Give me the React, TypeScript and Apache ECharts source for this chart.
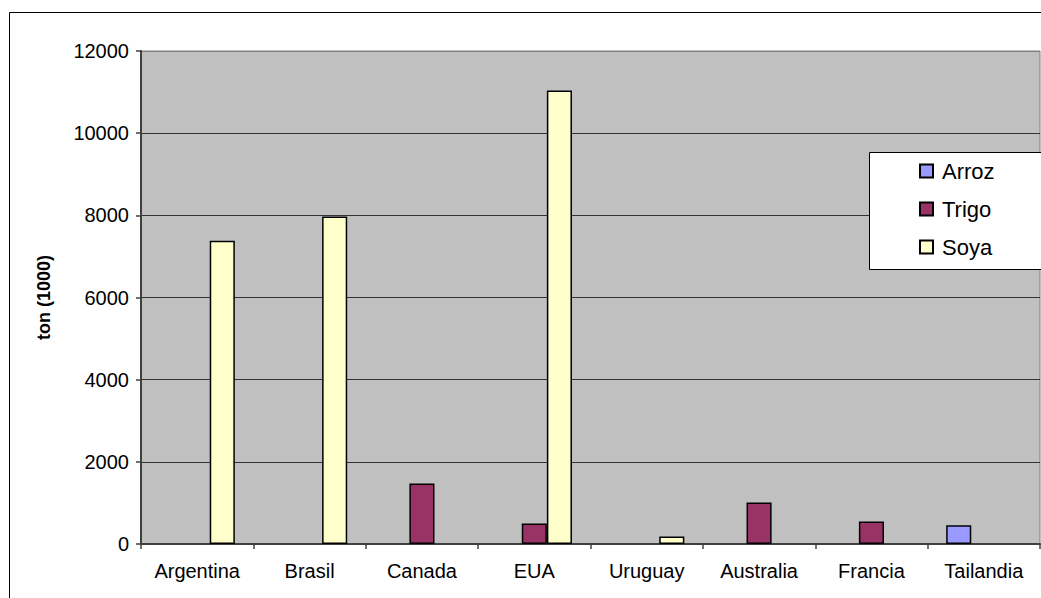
import React, { useEffect, useRef } from "react";
import * as echarts from "echarts";

const categories = ["Argentina", "Brasil", "Canada", "EUA", "Uruguay", "Australia", "Francia", "Tailandia"];
const seriesNames = ["Arroz", "Trigo", "Soya"];
const arroz = [null, null, null, null, null, null, null, 455];
const trigo = [null, null, 1470, 500, null, 1010, 550, null];
const soya = [7380, 7970, null, 11040, 180, null, null, null];
const yTicks = { min: 0, max: 12000, interval: 2000 };
const yAxisName = "ton (1000)";

const colors = ["#9999FF", "#993366", "#FFFFCC"];
const FONT = "'Liberation Sans', Arial, sans-serif";

export default function App() {
  const ref = useRef<HTMLDivElement>(null);
  useEffect(() => {
    if (!ref.current) return;
    const chart = echarts.init(ref.current, undefined, { renderer: "svg" });
    const data = [arroz, trigo, soya];
    chart.setOption({
      animation: false,
      textStyle: { fontFamily: FONT },
      grid: {
        left: 141,
        top: 51,
        right: 20,
        height: 493,
        show: true,
        backgroundColor: "#C0C0C0",
        borderColor: "#808080",
        borderWidth: 1,
      },
      graphic: [
        {
          type: "rect",
          z: 0,
          shape: { x: 9.5, y: 12.5, width: 1200, height: 800 },
          style: { fill: "none", stroke: "#000", lineWidth: 1 },
        },
        {
          type: "rect",
          z: 10,
          shape: { x: 869.5, y: 152.5, width: 300, height: 117 },
          style: { fill: "#fff", stroke: "#000", lineWidth: 1 },
        },
      ],
      legend: {
        z: 20,
        orient: "vertical",
        left: 919,
        top: 159,
        padding: 0,
        itemWidth: 13,
        itemHeight: 13,
        itemGap: 14,
        icon: "rect",
        textStyle: { fontSize: 22, lineHeight: 24, color: "#000", fontFamily: FONT, padding: [0, 0, 0, 4] },
        data: seriesNames,
      },
      xAxis: {
        type: "category",
        data: categories,
        axisLine: { lineStyle: { color: "#404040", width: 2 } },
        axisTick: { show: true, length: 5, lineStyle: { color: "#404040", width: 1.5 } },
        axisLabel: { color: "#000", fontSize: 20, margin: 17, interval: 0 },
      },
      yAxis: {
        type: "value",
        min: yTicks.min,
        max: yTicks.max,
        interval: yTicks.interval,
        name: yAxisName,
        nameLocation: "middle",
        nameGap: 88,
        nameRotate: 90,
        nameTextStyle: { fontSize: 18, fontWeight: "bold", color: "#000" },
        axisLine: { show: true, lineStyle: { color: "#404040", width: 2 } },
        axisTick: { show: true, length: 5, lineStyle: { color: "#404040", width: 1.5 } },
        axisLabel: { color: "#000", fontSize: 20, margin: 12, formatter: (v: number) => String(v) },
        splitLine: {
          show: true,
          lineStyle: { color: ["#333", "#333", "#333", "#333", "#333", "#333", "#808080"], width: 1 },
        },
      },
      series: seriesNames.map((name, i) => ({
        name,
        type: "bar",
        data: data[i],
        barGap: "0%",
        barCategoryGap: "33%",
        itemStyle: { color: colors[i], borderColor: "#000", borderWidth: 1.5 },
      })),
    });
    return () => chart.dispose();
  }, []);
  return (
    <div style={{ position: "fixed", left: 0, top: 0, width: 1041, height: 598, overflow: "hidden", background: "#fff" }}>
      <div ref={ref} style={{ width: 1060, height: 620 }} />
    </div>
  );
}
